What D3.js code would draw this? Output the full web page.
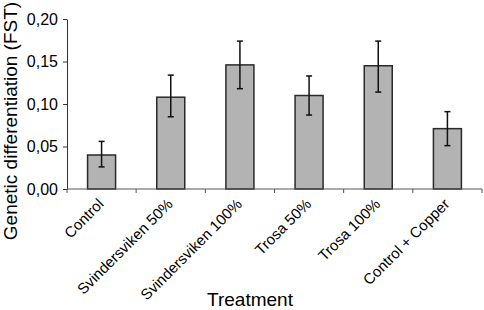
<!DOCTYPE html>
<html lang="en">
<head>
  <meta charset="UTF-8">
  <script src="https://d3js.org/d3.v7.min.js"></script>
  <style>
    body { margin: 0; background: #fff; font-family: Arial, "Liberation Sans", sans-serif; }
  </style>
</head>
<body>
  <div id="chart"></div>
  <script>
    const treatments = ["Control", "Svindersviken 50%", "Svindersviken 100%", "Trosa 50%", "Trosa 100%", "Control + Copper"];
    const fst = [0.040, 0.108, 0.146, 0.110, 0.145, 0.071];
    const errLow = [0.026, 0.085, 0.118, 0.087, 0.114, 0.051];
    const errHigh = [0.056, 0.134, 0.174, 0.133, 0.174, 0.091];
    const yTicks = [0, 0.05, 0.10, 0.15, 0.20];

    const data = treatments.map((t, i) => ({ t, v: fst[i], lo: errLow[i], hi: errHigh[i] }));

    const W = 484, H = 310;
    const margin = { top: 19, right: 2, bottom: 121, left: 67 };
    const width = W - margin.left - margin.right;
    const height = H - margin.top - margin.bottom;

    const svg = d3.select("#chart").append("svg")
      .attr("width", W)
      .attr("height", H);

    const g = svg.append("g")
      .attr("transform", `translate(${margin.left},${margin.top})`);

    const x = d3.scaleBand().domain(treatments).range([0, width]).paddingInner(0.595).paddingOuter(0.2975);
    const y = d3.scaleLinear().domain([0, 0.2]).range([height, 0]);

    // bars
    g.selectAll(".bar")
      .data(data)
      .enter().append("rect")
      .attr("x", d => x(d.t))
      .attr("y", d => y(d.v))
      .attr("width", x.bandwidth())
      .attr("height", d => height - y(d.v))
      .attr("fill", "#b3b3b3")
      .attr("stroke", "#2a2a2a")
      .attr("stroke-width", 1.5);

    // error bars
    const eb = g.selectAll(".err").data(data).enter().append("g")
      .attr("stroke", "#111")
      .attr("stroke-width", 1.5);
    eb.append("line")
      .attr("x1", d => x(d.t) + x.bandwidth() / 2)
      .attr("x2", d => x(d.t) + x.bandwidth() / 2)
      .attr("y1", d => y(d.hi))
      .attr("y2", d => y(d.lo));
    eb.append("line")
      .attr("x1", d => x(d.t) + x.bandwidth() / 2 - 3)
      .attr("x2", d => x(d.t) + x.bandwidth() / 2 + 3)
      .attr("y1", d => y(d.hi))
      .attr("y2", d => y(d.hi));
    eb.append("line")
      .attr("x1", d => x(d.t) + x.bandwidth() / 2 - 3)
      .attr("x2", d => x(d.t) + x.bandwidth() / 2 + 3)
      .attr("y1", d => y(d.lo))
      .attr("y2", d => y(d.lo));

    // y axis
    const yAxis = g.append("g")
      .call(d3.axisLeft(y).tickValues(yTicks).tickSize(4).tickSizeOuter(0)
        .tickFormat(d => d3.format(".2f")(d).replace(".", ",")));
    yAxis.select(".domain").attr("stroke", "#333");
    yAxis.selectAll(".tick line").attr("stroke", "#333");
    yAxis.selectAll("text")
      .attr("font-family", "Arial, 'Liberation Sans', sans-serif")
      .attr("font-size", 16)
      .attr("fill", "#000")
      .attr("x", -9);

    // x axis: ticks at category boundaries
    const xAxisG = g.append("g").attr("transform", `translate(0,${height})`);
    xAxisG.append("line")
      .attr("x1", 0).attr("x2", width)
      .attr("stroke", "#555").attr("stroke-width", 1);
    const step = x.step();
    xAxisG.selectAll(".xt")
      .data(d3.range(treatments.length + 1))
      .enter().append("line")
      .attr("x1", i => i * step)
      .attr("x2", i => i * step)
      .attr("y1", 0).attr("y2", 4)
      .attr("stroke", "#555");
    xAxisG.selectAll(".xl")
      .data(treatments)
      .enter().append("text")
      .attr("transform", d => `translate(${x(d) + x.bandwidth() / 2 + 3},${16}) rotate(-45)`)
      .attr("text-anchor", "end")
      .attr("font-size", 15)
      .attr("fill", "#000")
      .text(d => d);

    // axis titles
    svg.append("text")
      .attr("x", 250)
      .attr("y", 306)
      .attr("text-anchor", "middle")
      .attr("font-size", 19)
      .attr("fill", "#000")
      .text("Treatment");

    svg.append("text")
      .attr("transform", "rotate(-90)")
      .attr("x", -121)
      .attr("y", 17)
      .attr("text-anchor", "middle")
      .attr("font-size", 19)
      .attr("fill", "#000")
      .text("Genetic differentiation (FST)");
  </script>
</body>
</html>
